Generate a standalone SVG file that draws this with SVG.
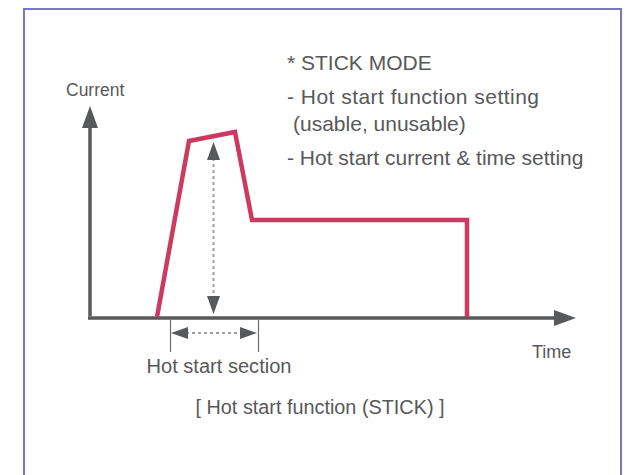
<svg xmlns="http://www.w3.org/2000/svg" width="636" height="475" viewBox="0 0 636 475">
<style>
.t{font-family:"Liberation Sans",Arial,sans-serif;fill:#58585a;}
.n{font-size:21px;}
.axis{stroke:#58595b;stroke-width:3.5;fill:none;}
.dash{stroke:#a0a0a0;stroke-width:2;stroke-dasharray:3 3;fill:none;}
.tick{stroke:#6d6e70;stroke-width:1.2;fill:none;}
.head{fill:#58595b;}
</style>
<rect x="0" y="0" width="636" height="475" fill="#ffffff"/>
<rect id="frame" x="24" y="9" width="597" height="480" fill="none" stroke="#7676c2" stroke-width="2"/>
<g id="axes">
<path class="axis" d="M90,316 L90,122"/>
<path class="head" d="M90,106 L82,128 L98,128 Z"/>
<path class="axis" d="M88,318 L556,318"/>
<path class="head" d="M576,318 L554,310 L554,326 Z"/>
</g>
<g id="current-curve">
<path d="M157,317 L189,141 L235,132 L252,220 L467,220 L467,317" fill="none" stroke="#cc3a62" stroke-width="4.5" stroke-linejoin="miter"/>
</g>
<g id="connectors">
<path class="dash" d="M213.5,158 L213.5,298"/>
<path class="head" d="M213.5,142 L207,160 L220,160 Z"/>
<path class="head" d="M213.5,314 L207,296 L220,296 Z"/>
<path class="tick" d="M170.5,318 L170.5,352"/>
<path class="tick" d="M258.5,318 L258.5,352"/>
<path class="dash" d="M186,333 L242,333" stroke-width="1.6"/>
<path class="head" d="M171,333 L188,327 L188,339 Z"/>
<path class="head" d="M257,333 L240,327 L240,339 Z"/>
</g>
<g id="labels">
<text class="t" x="66" y="96" font-size="17.5">Current</text>
<text class="t" x="532" y="358" font-size="18">Time</text>
<text class="t" x="219" y="373" font-size="19.5" text-anchor="middle" textLength="145" lengthAdjust="spacingAndGlyphs">Hot start section</text>
<text class="t" x="320" y="414" font-size="19.5" text-anchor="middle" textLength="249" lengthAdjust="spacingAndGlyphs">[ Hot start function (STICK) ]</text>
</g>
<g id="notes">
<text class="t n" x="287" y="70">* STICK MODE</text>
<text class="t n" x="287" y="104" textLength="252" lengthAdjust="spacing">- Hot start function setting</text>
<text class="t n" x="293" y="131">(usable, unusable)</text>
<text class="t n" x="287" y="165">- Hot start current &amp; time setting</text>
</g>
</svg>
